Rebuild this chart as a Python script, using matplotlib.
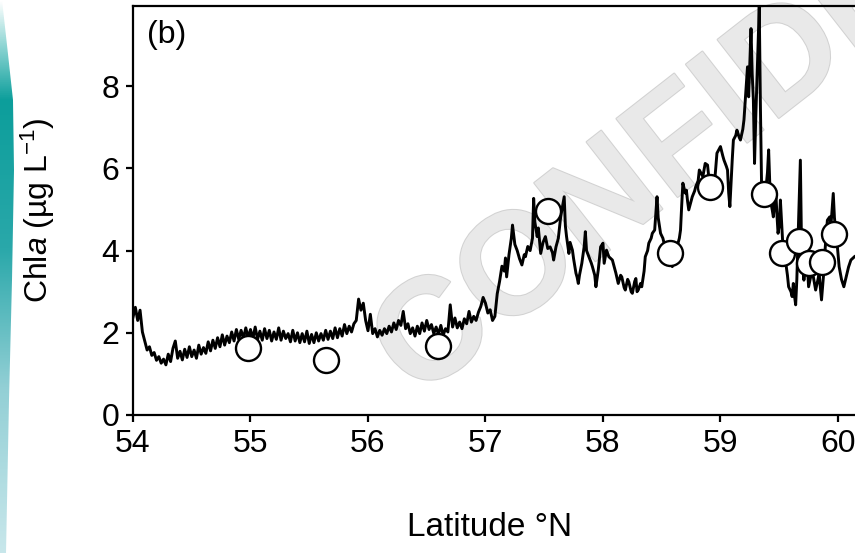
import numpy as np
import matplotlib
matplotlib.use("Agg")
from matplotlib import pyplot as plt
from matplotlib import patheffects
from matplotlib.colors import LinearSegmentedColormap
from matplotlib.patches import Polygon

plt.rcParams["font.family"] = ["Liberation Sans", "DejaVu Sans"]
plt.rcParams["mathtext.fontset"] = "custom"
plt.rcParams["mathtext.rm"] = "Liberation Sans"
plt.rcParams["mathtext.it"] = "Liberation Sans:italic"

# underway chl a, southern part of the transect (regular 0.02 deg steps)
lat_south = np.round(np.arange(54.0, 56.99, 0.02), 2)
chl_south = [
    2.38, 2.62, 2.30, 2.55, 2.02, 1.80, 1.58, 1.66, 1.45, 1.52,
    1.33, 1.42, 1.26, 1.36, 1.22, 1.48, 1.30, 1.62, 1.80, 1.38,
    1.55, 1.34, 1.60, 1.40, 1.66, 1.42, 1.58, 1.38, 1.70, 1.48,
    1.64, 1.50, 1.78, 1.56, 1.82, 1.62, 1.88, 1.66, 1.95, 1.70,
    1.92, 1.76, 2.02, 1.80, 2.08, 1.84, 2.06, 1.86, 2.12, 1.88,
    2.08, 1.86, 2.14, 1.84, 2.04, 1.82, 2.10, 1.86, 2.06, 1.80,
    2.02, 1.84, 2.12, 1.82, 2.04, 1.86, 1.98, 1.78, 2.06, 1.80,
    2.00, 1.76, 1.98, 1.78, 2.04, 1.74, 1.96, 1.76, 2.00, 1.80,
    1.98, 1.82, 2.06, 1.84, 2.04, 1.86, 2.12, 1.88, 2.10, 1.92,
    2.20, 1.98, 2.16, 2.02, 2.22, 2.30, 2.82, 2.55, 2.72, 2.30,
    2.05, 2.45, 1.98, 2.10, 1.90, 2.06, 1.94, 2.10, 1.98, 2.16,
    2.02, 2.24, 2.08, 2.30, 2.18, 2.52, 2.10, 2.22, 1.98, 2.12,
    1.92, 2.16, 1.98, 2.24, 2.04, 2.30, 2.08, 2.20, 1.98, 2.14,
    1.96, 2.18, 1.94, 2.10, 2.02, 2.68, 2.14, 2.36, 2.12, 2.26,
    2.10, 2.34, 2.22, 2.52, 2.26, 2.40, 2.30, 2.50, 2.64, 2.86,
]

# northern part, read point by point
lat_north = [
    57.00, 57.02, 57.04, 57.06, 57.08, 57.10, 57.12, 57.14, 57.16, 57.17,
    57.18, 57.20, 57.22, 57.23, 57.25, 57.27, 57.29, 57.31, 57.33, 57.34,
    57.36, 57.38, 57.40, 57.41, 57.42, 57.44, 57.45, 57.47, 57.49, 57.51,
    57.53, 57.55, 57.57, 57.58, 57.60, 57.62, 57.64, 57.67, 57.68, 57.69,
    57.71, 57.72, 57.74, 57.75, 57.77, 57.78, 57.79, 57.80, 57.82, 57.84,
    57.85, 57.86, 57.88, 57.90, 57.91, 57.93, 57.94, 57.96, 57.98, 58.00,
    58.01, 58.03, 58.05, 58.08, 58.10, 58.11, 58.13, 58.15, 58.16, 58.18,
    58.19, 58.21, 58.22, 58.24, 58.25, 58.27, 58.28, 58.29, 58.30, 58.32,
    58.33, 58.35, 58.36, 58.38, 58.39, 58.41, 58.42, 58.44, 58.45, 58.46,
    58.47, 58.49, 58.51, 58.52, 58.54, 58.55, 58.57, 58.59, 58.61, 58.63,
    58.65, 58.66, 58.67, 58.68, 58.70, 58.71, 58.72, 58.73, 58.75, 58.76,
    58.78, 58.79, 58.81, 58.82, 58.84, 58.85, 58.87, 58.89, 58.90, 58.92,
    58.94, 58.96, 58.97, 59.00, 59.02, 59.03, 59.05, 59.06, 59.07, 59.08,
    59.10, 59.11, 59.13, 59.14, 59.16, 59.17, 59.19, 59.20, 59.21, 59.23,
    59.24, 59.25, 59.26, 59.27, 59.28, 59.29, 59.30, 59.31, 59.32, 59.33,
    59.34, 59.35, 59.37, 59.39, 59.40, 59.41, 59.42, 59.43, 59.44, 59.45,
    59.47, 59.48, 59.49, 59.50, 59.51, 59.53, 59.55, 59.56, 59.57, 59.58,
    59.60, 59.61, 59.62, 59.63, 59.64, 59.65, 59.66, 59.67, 59.68, 59.69,
    59.70, 59.71, 59.72, 59.74, 59.75, 59.77, 59.78, 59.80, 59.81, 59.83,
    59.84, 59.85, 59.86, 59.88, 59.89, 59.91, 59.93, 59.94, 59.96, 59.97,
    59.99, 60.01, 60.03, 60.05, 60.07, 60.09, 60.11, 60.14,
]
chl_north = [
    2.72, 2.48, 2.56, 2.30, 2.40, 2.95, 3.25, 3.62, 3.50, 3.82,
    3.36, 3.90, 4.30, 4.62, 4.15, 4.00, 3.80, 3.65, 3.90, 3.85,
    4.10, 4.00, 4.30, 5.27, 4.70, 4.34, 4.55, 3.93, 4.20, 4.34,
    4.05, 4.09, 3.95, 3.77, 4.09, 4.30, 4.82, 5.31, 4.60, 4.34,
    3.93, 4.20, 4.01, 3.80, 3.45, 3.35, 3.20, 3.40, 3.69, 4.10,
    4.46, 4.00, 3.85, 3.70, 3.61, 3.40, 3.12, 3.53, 4.09, 4.18,
    3.69, 4.01, 3.85, 3.77, 3.55, 3.45, 3.20, 3.40, 3.36, 3.10,
    3.04, 3.30, 3.24, 3.00, 2.96, 3.25, 3.32, 3.00, 3.04, 3.20,
    3.12, 3.50, 3.85, 4.00, 4.18, 4.30, 4.42, 4.50, 4.90, 5.31,
    4.80, 4.42, 4.30, 4.18, 4.00, 4.01, 3.80, 3.61, 3.85, 4.09,
    4.30, 4.50, 5.10, 5.64, 5.40, 5.47, 5.20, 4.99, 5.20, 5.31,
    5.45, 5.56, 5.70, 5.96, 5.85, 5.80, 6.12, 6.08, 5.80, 5.60,
    5.31, 6.00, 6.37, 6.53, 6.30, 6.20, 6.05, 5.96, 5.40, 5.07,
    6.20, 6.69, 6.80, 6.93, 6.75, 6.69, 6.95, 7.18, 7.60, 8.47,
    7.74, 8.60, 9.40, 8.30, 7.66, 6.12, 7.20, 8.07, 9.00, 9.93,
    7.50, 5.56, 5.47, 5.60, 5.90, 6.45, 5.60, 5.15, 5.00, 4.82,
    5.47, 4.90, 4.42, 4.60, 5.23, 4.18, 3.90, 3.61, 3.40, 3.12,
    3.00, 2.88, 3.20, 2.90, 2.68, 3.30, 4.26, 5.20, 6.20, 4.09,
    3.60, 3.28, 3.50, 3.61, 3.12, 3.40, 3.53, 3.20, 3.04, 3.30,
    3.45, 3.10, 2.80, 3.50, 4.01, 4.74, 4.82, 4.60, 5.39, 4.80,
    4.26, 3.61, 3.30, 3.12, 3.36, 3.60, 3.77, 3.85,
]

# discrete bottle samples
lat_samples = [54.98, 55.64, 56.60, 57.53, 58.57, 58.91, 59.37, 59.52, 59.67, 59.75, 59.86, 59.97]
chl_samples = [1.63, 1.34, 1.68, 4.96, 3.94, 5.55, 5.38, 3.94, 4.23, 3.70, 3.72, 4.40]

xticks = [54, 55, 56, 57, 58, 59, 60]
yticks = [0, 2, 4, 6, 8]

assert len(lat_south) == len(chl_south)
assert len(lat_north) == len(chl_north)
lat = np.concatenate([lat_south, lat_north])
chl = np.concatenate([chl_south, chl_north])

W, H = 855, 553
fig = plt.figure(figsize=(W / 100, H / 100), dpi=100)

# teal slide strip on the left
strip = fig.add_axes([0, 0, 20 / W, 1])
strip.set_xlim(0, 20)
strip.set_ylim(H, 0)
strip.axis("off")
teal = LinearSegmentedColormap.from_list(
    "teal",
    [(0.0, "#ffffff"), (0.08, "#8fd6d4"), (0.18, "#0c9e9b"), (0.45, "#2aa8aa"),
     (0.7, "#92cfd5"), (1.0, "#c8e7eb")],
)
grad = np.linspace(0, 1, 256).reshape(-1, 1)
img = strip.imshow(grad, cmap=teal, extent=[0, 20, H, 0], aspect="auto")
shape = Polygon([(0, 0), (2, 0), (7, 45), (13, 100), (14, 170), (12, 280),
                 (9, 400), (6, H), (0, H)], closed=True, transform=strip.transData)
img.set_clip_path(shape)

ax = fig.add_axes([133 / W, 138 / H, 722 / W, 409 / H])

# watermark behind the data
ax.text(394 / W, 1 - 371 / H, "CONFIDENTIAL", transform=fig.transFigure,
        rotation=38, rotation_mode="anchor", ha="left", va="center",
        fontsize=104, fontweight="bold", color="#e9e9e9", zorder=1,
        path_effects=[patheffects.withStroke(linewidth=1.5, foreground="#d2d2d2")])

ax.plot(lat, chl, color="black", lw=2.1, zorder=3)
ax.plot(lat_samples, chl_samples, "o", ms=18, mfc="white", mec="black",
        mew=1.7, zorder=4)

ax.set_xlim(54, 60.145)
ax.set_ylim(0, 9.95)
ax.set_xticks(xticks)
ax.set_yticks(yticks)
ax.spines["right"].set_visible(False)
for s in ["left", "top", "bottom"]:
    ax.spines[s].set_linewidth(1.6)
ax.tick_params(direction="out", length=5, width=1.6, labelsize=23, pad=5)

ax.text(0.02, 0.965, "(b)", transform=ax.transAxes, fontsize=23, va="top", ha="left")

fig.text(38 / W, 1 - 210 / H, "Chl$\\it{a}$ (µg L$^{-1}$)", rotation=90,
         ha="center", va="center", fontsize=23)
fig.text(490 / W, 1 - 527 / H, "Latitude °N", ha="center", va="center", fontsize=24)

fig.savefig("out.png", dpi=100)
